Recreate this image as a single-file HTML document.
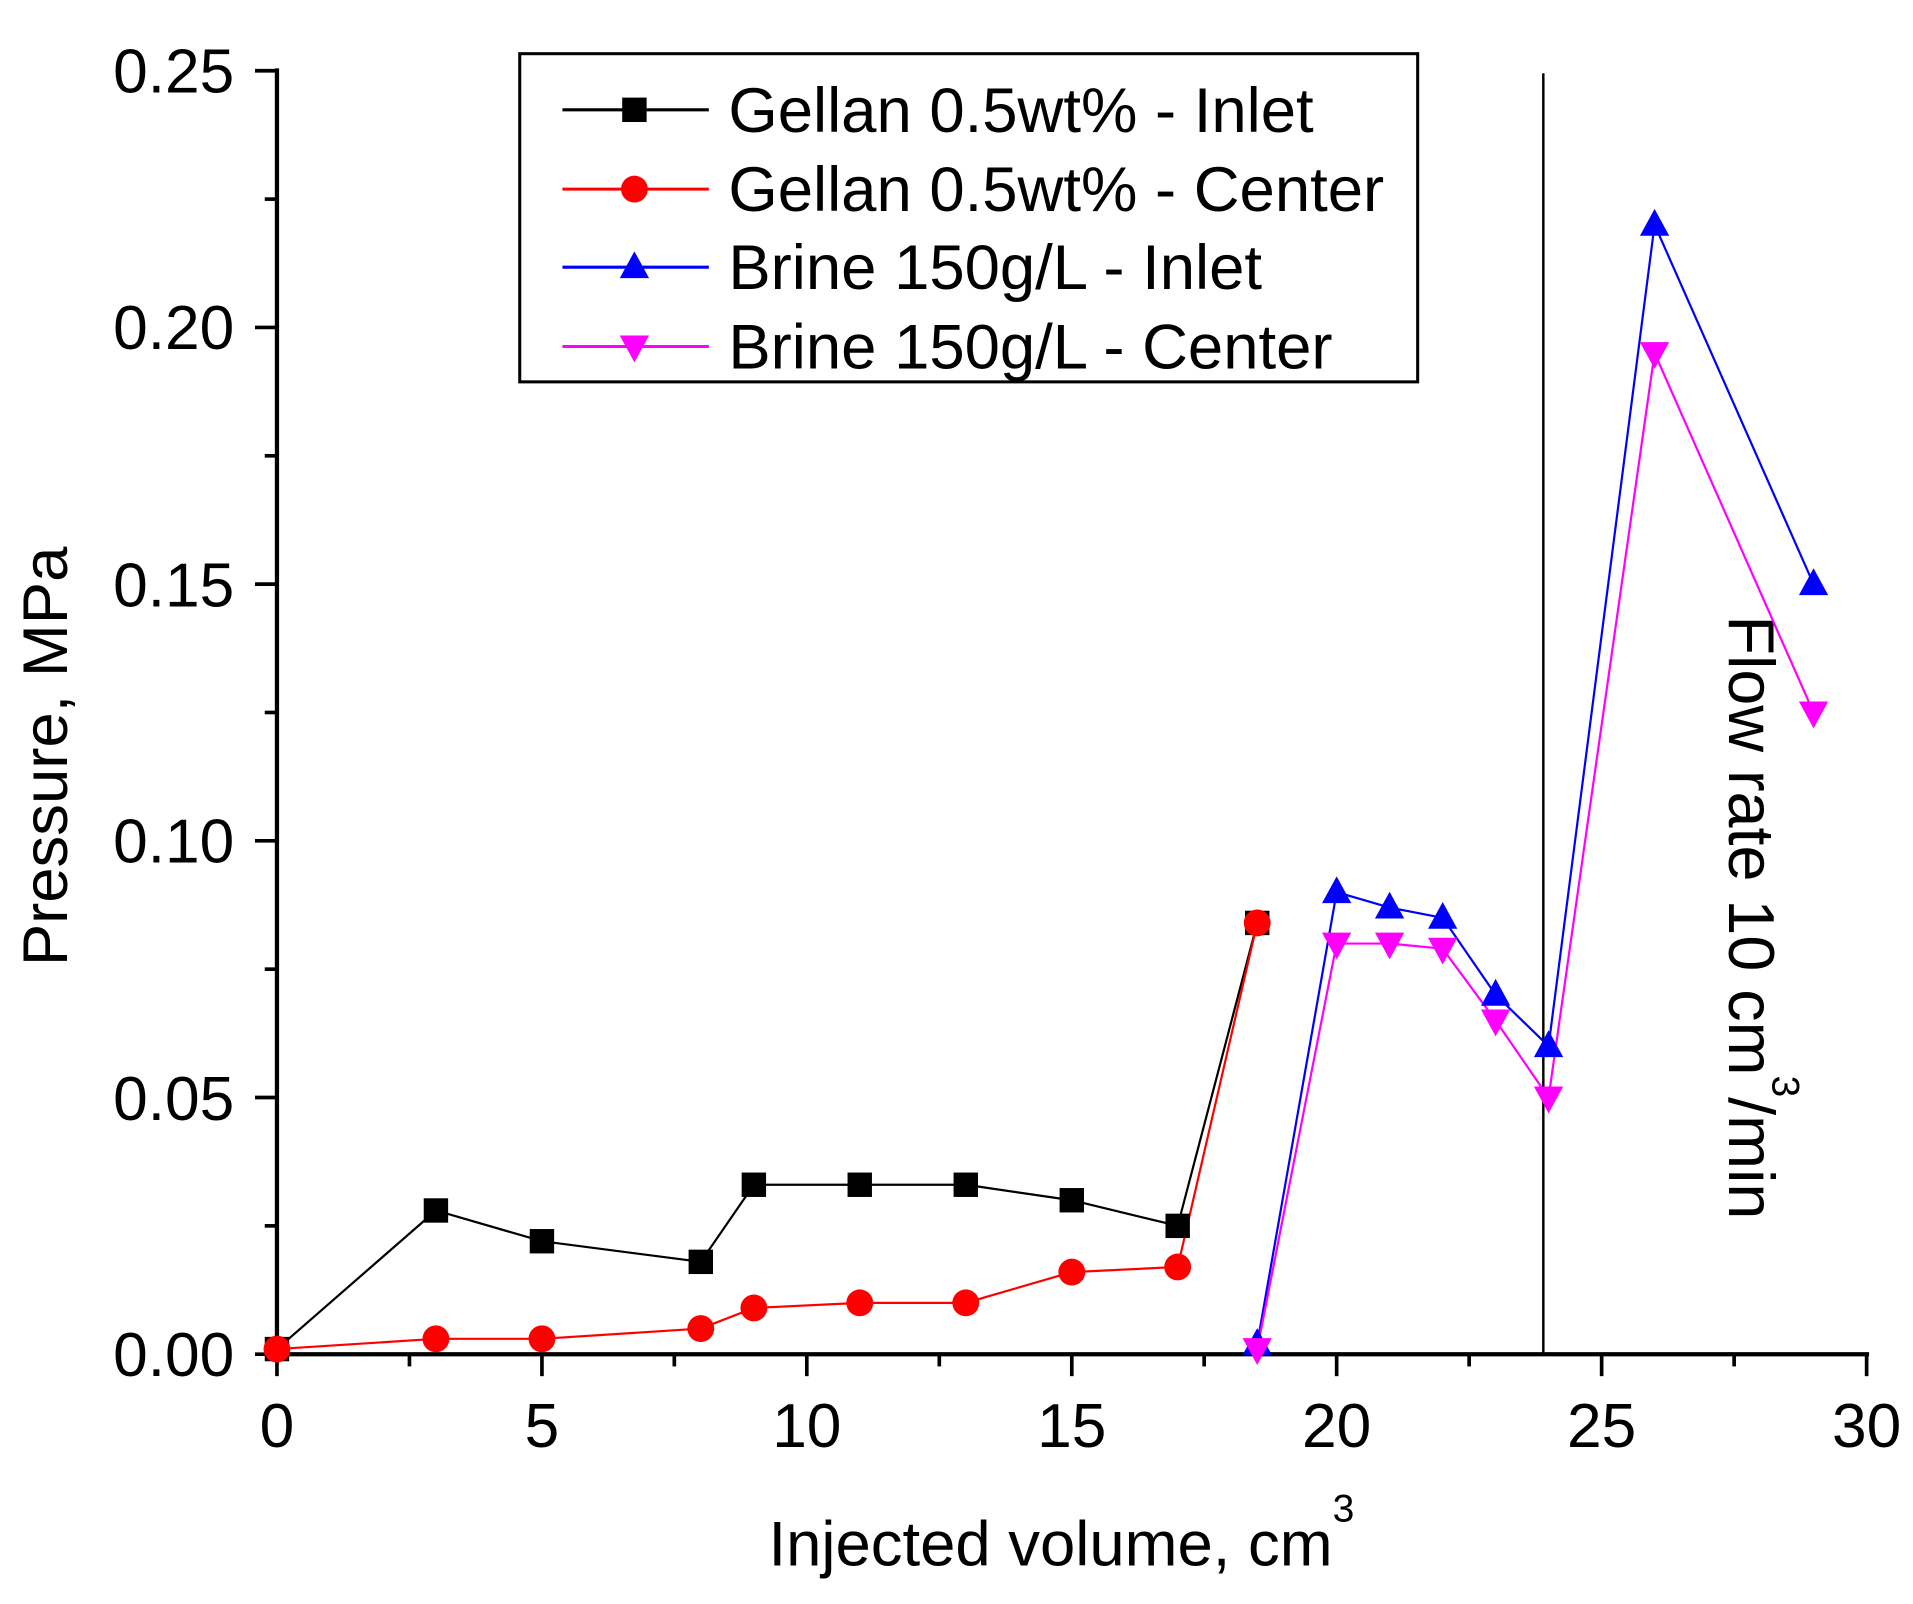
<!DOCTYPE html>
<html><head><meta charset="utf-8"><style>html,body{margin:0;padding:0;background:#fff}svg{display:block}</style></head>
<body>
<svg width="1913" height="1604" viewBox="0 0 1568 1314.75" xmlns="http://www.w3.org/2000/svg" font-family="Liberation Sans, Arial, sans-serif">
<defs>
<rect id="sq" x="-10" y="-10" width="20" height="20" fill="#000"/>
<circle id="ci" r="11" fill="#f00"/>
<polygon id="tu" points="0,-13 12,9 -12,9" fill="#00f"/>
<polygon id="td" points="0,13 12,-9 -12,-9" fill="#f0f"/>
</defs>
<rect width="1568" height="1315" fill="#fff"/>
<g stroke="#000" stroke-width="3.5" fill="none">
<line x1="227" y1="56" x2="227" y2="1111.5"/>
<line x1="225" y1="1110" x2="1532" y2="1110"/>
</g>
<g stroke="#000" stroke-width="3">
<line x1="227" y1="1110" x2="227" y2="1128"/><line x1="444.2" y1="1110" x2="444.2" y2="1128"/><line x1="661.3" y1="1110" x2="661.3" y2="1128"/><line x1="878.5" y1="1110" x2="878.5" y2="1128"/><line x1="1095.6" y1="1110" x2="1095.6" y2="1128"/><line x1="1312.8" y1="1110" x2="1312.8" y2="1128"/><line x1="1530" y1="1110" x2="1530" y2="1128"/>
<line x1="335.6" y1="1110" x2="335.6" y2="1120"/><line x1="552.7" y1="1110" x2="552.7" y2="1120"/><line x1="769.9" y1="1110" x2="769.9" y2="1120"/><line x1="987" y1="1110" x2="987" y2="1120"/><line x1="1204.2" y1="1110" x2="1204.2" y2="1120"/><line x1="1421.4" y1="1110" x2="1421.4" y2="1120"/>
<line x1="209" y1="1110" x2="227" y2="1110"/><line x1="209" y1="899.6" x2="227" y2="899.6"/><line x1="209" y1="689.2" x2="227" y2="689.2"/><line x1="209" y1="478.8" x2="227" y2="478.8"/><line x1="209" y1="268.4" x2="227" y2="268.4"/><line x1="209" y1="58" x2="227" y2="58"/>
<line x1="217" y1="1004.8" x2="227" y2="1004.8"/><line x1="217" y1="794.4" x2="227" y2="794.4"/><line x1="217" y1="584" x2="227" y2="584"/><line x1="217" y1="373.6" x2="227" y2="373.6"/><line x1="217" y1="163.2" x2="227" y2="163.2"/>
</g>
<g font-size="51" text-anchor="end" fill="#000">
<text x="192" y="1128">0.00</text><text x="192" y="918">0.05</text><text x="192" y="707">0.10</text><text x="192" y="497">0.15</text><text x="192" y="286">0.20</text><text x="192" y="76">0.25</text>
</g>
<g font-size="51" text-anchor="middle" fill="#000">
<text x="227" y="1186">0</text><text x="444.2" y="1186">5</text><text x="661.3" y="1186">10</text><text x="878.5" y="1186">15</text><text x="1095.6" y="1186">20</text><text x="1312.8" y="1186">25</text><text x="1530" y="1186">30</text>
</g>
<text x="870" y="1283" font-size="52" text-anchor="middle">Injected volume, cm<tspan font-size="32" dy="-36">3</tspan></text>
<text transform="translate(55,620) rotate(-90)" font-size="52" text-anchor="middle">Pressure, MPa</text>
<line x1="1265" y1="60" x2="1265" y2="1110" stroke="#000" stroke-width="2"/>
<text transform="translate(1417,752) rotate(90)" font-size="53" text-anchor="middle">Flow rate 10 cm<tspan font-size="32" dy="-36">3</tspan><tspan dy="36">/min</tspan></text>
<g fill="none" stroke-width="1.8">
<polyline stroke="#000" points="227,1105.8 357.3,992.2 444.2,1017.4 574.4,1034.3 617.9,971.1 704.7,971.1 791.6,971.1 878.5,983.8 965.3,1004.8 1030.5,756.5"/>
<polyline stroke="#f00" points="227,1105.8 357.3,1097.4 444.2,1097.4 574.4,1089 617.9,1072.1 704.7,1067.9 791.6,1067.9 878.5,1042.7 965.3,1038.5 1030.5,756.5"/>
<polyline stroke="#00f" points="1030.5,1101.6 1095.6,731.3 1139,743.9 1182.5,752.3 1225.9,815.4 1269.3,857.5 1356.2,184.2 1486.5,478.8"/>
<polyline stroke="#f0f" points="1030.5,1105.8 1095.6,773.4 1139,773.4 1182.5,777.6 1225.9,836.5 1269.3,899.6 1356.2,289.4 1486.5,584"/>
</g>
<use href="#sq" x="227" y="1105.8"/><use href="#sq" x="357.3" y="992.2"/><use href="#sq" x="444.2" y="1017.4"/><use href="#sq" x="574.4" y="1034.3"/><use href="#sq" x="617.9" y="971.1"/><use href="#sq" x="704.7" y="971.1"/><use href="#sq" x="791.6" y="971.1"/><use href="#sq" x="878.5" y="983.8"/><use href="#sq" x="965.3" y="1004.8"/><use href="#sq" x="1030.5" y="756.5"/>
<use href="#ci" x="227" y="1105.8"/><use href="#ci" x="357.3" y="1097.4"/><use href="#ci" x="444.2" y="1097.4"/><use href="#ci" x="574.4" y="1089"/><use href="#ci" x="617.9" y="1072.1"/><use href="#ci" x="704.7" y="1067.9"/><use href="#ci" x="791.6" y="1067.9"/><use href="#ci" x="878.5" y="1042.7"/><use href="#ci" x="965.3" y="1038.5"/><use href="#ci" x="1030.5" y="756.5"/>
<use href="#tu" x="1030.5" y="1101.6"/><use href="#tu" x="1095.6" y="731.3"/><use href="#tu" x="1139" y="743.9"/><use href="#tu" x="1182.5" y="752.3"/><use href="#tu" x="1225.9" y="815.4"/><use href="#tu" x="1269.3" y="857.5"/><use href="#tu" x="1356.2" y="184.2"/><use href="#tu" x="1486.5" y="478.8"/>
<use href="#td" x="1030.5" y="1105.8"/><use href="#td" x="1095.6" y="773.4"/><use href="#td" x="1139" y="773.4"/><use href="#td" x="1182.5" y="777.6"/><use href="#td" x="1225.9" y="836.5"/><use href="#td" x="1269.3" y="899.6"/><use href="#td" x="1356.2" y="289.4"/><use href="#td" x="1486.5" y="584"/>
<rect x="426" y="44" width="736" height="269" fill="#fff" stroke="#000" stroke-width="2.5"/>
<g stroke-width="2.5">
<line x1="461" y1="90" x2="581" y2="90" stroke="#000"/>
<line x1="461" y1="155" x2="581" y2="155" stroke="#f00"/>
<line x1="461" y1="219" x2="581" y2="219" stroke="#00f"/>
<line x1="461" y1="284" x2="581" y2="284" stroke="#f0f"/>
</g>
<use href="#sq" x="520" y="90"/><use href="#ci" x="520" y="155"/><use href="#tu" x="520" y="219"/><use href="#td" x="520" y="284"/>
<g font-size="52" fill="#000">
<text x="597" y="108">Gellan 0.5wt% - Inlet</text>
<text x="597" y="173">Gellan 0.5wt% - Center</text>
<text x="597" y="237">Brine 150g/L - Inlet</text>
<text x="597" y="302">Brine 150g/L - Center</text>
</g>
</svg>
</body></html>
